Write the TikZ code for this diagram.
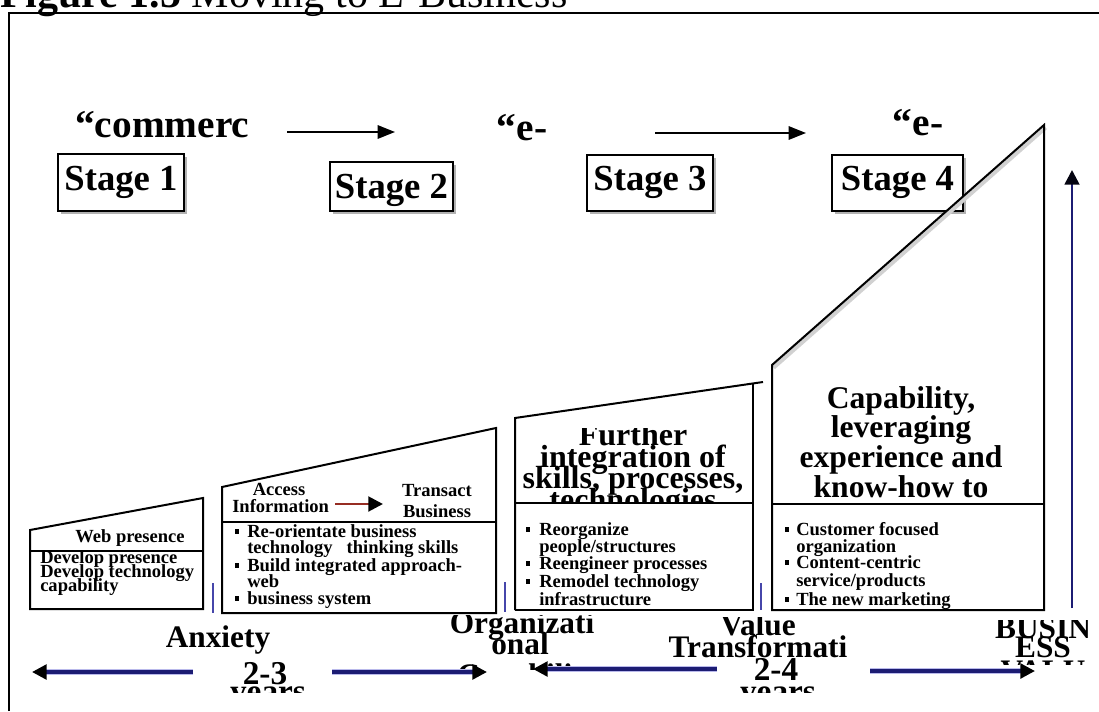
\documentclass[tikz,border=0pt]{standalone}
\usepackage{fontspec}
\setmainfont{Liberation Serif}
\usetikzlibrary{arrows.meta}
\definecolor{navy}{RGB}{28,28,115}
\definecolor{vline}{RGB}{70,70,170}
\definecolor{redshaft}{RGB}{150,45,35}
\definecolor{glow}{RGB}{185,185,235}
\begin{document}
\begin{tikzpicture}[x=0.75pt,y=-0.75pt,
  sm/.style={font=\fontsize{13.9}{14}\selectfont\bfseries, inner sep=0pt, anchor=base west},
  smc/.style={sm, anchor=base},
  hdr/.style={font=\fontsize{24}{24}\selectfont\bfseries, inner sep=0pt, anchor=base},
  big/.style={font=\fontsize{23.5}{24}\selectfont\bfseries, inner sep=0pt, anchor=base},
  num/.style={font=\fontsize{25}{25}\selectfont\bfseries, inner sep=0pt, anchor=base},
  top/.style={font=\fontsize{29.5}{30}\selectfont\bfseries, inner sep=0pt},
  stg/.style={draw, line width=1.5pt, fill=white, inner sep=0pt, text height=20pt,
    font=\fontsize{27.5}{28}\selectfont\bfseries},
  shad/.style={fill=black!30, draw=none, inner sep=0pt},
  boxline/.style={line width=1.5pt, line join=miter},
  bul/.style={fill=black, draw=none, rectangle, inner sep=0pt, minimum size=3.4pt},
  toparrow/.style={-{Triangle[length=13pt,width=10pt]}, line width=1.5pt},
  botarrow/.style={-{Triangle[length=11pt,width=11pt,color=black]}, line width=2.6pt, draw=navy},
  glowline/.style={draw=glow, line width=4.6pt},
  thin/.style={draw=vline, line width=1.3pt}
]
\clip (0,0) rectangle (1099,711);
\fill[white] (0,0) rectangle (1099,711);

% frame and title
\draw[line width=1.5pt] (9,711) -- (9,13) -- (1099,13);
\node[anchor=base west, inner sep=0pt, font=\fontsize{31.5}{32}\selectfont] (title) at (0,7)
  {\textbf{Figure 1.5} Moving to E-Business};

% top texts
\node[top, anchor=base west] (com) at (75,137) {“commerc};
\node[top, anchor=base] (e1) at (522,140) {“e-};
\node[top, anchor=base] (e2) at (918,135) {“e-};
\coordinate (a1s) at (287,132); \coordinate (a1e) at (395,132);
\coordinate (a2s) at (655,133); \coordinate (a2e) at (806,133);
\draw[toparrow] (a1s) -- (a1e);
\draw[toparrow] (a2s) -- (a2e);

% stage boxes (with shadows)
\node[shad, minimum width=94.5pt, minimum height=42.75pt] (s1s) at (124,185.5) {};
\node[shad, minimum width=92.25pt, minimum height=36.75pt] (s2s) at (394.5,189.5) {};
\node[shad, minimum width=94.5pt, minimum height=42pt] (s3s) at (653,186) {};
\node[shad, minimum width=98.25pt, minimum height=42pt] (s4s) at (900.5,186) {};
\node[stg, minimum width=94.5pt, minimum height=42.75pt, text depth=8.75pt] (s1) at (121,182.5) {Stage 1};
\node[stg, minimum width=92.25pt, minimum height=36.75pt, text depth=2.75pt] (s2) at (391.5,186.5) {Stage 2};
\node[stg, minimum width=94.5pt, minimum height=42pt, text depth=9.5pt] (s3) at (650,183) {Stage 3};
\node[stg, minimum width=98.25pt, minimum height=42pt, text depth=9.5pt] (s4) at (897.5,183) {Stage 4};

% stage 1 block
\draw[boxline] (30,609) -- (30,530) -- (203,498) -- (203,609) -- cycle;
\draw[boxline] (30,551) -- (203,551);
\node[smc] (wp) at (130,542) {Web presence};
\node[sm] (d1) at (40,563) {Develop presence};
\node[sm] (d2) at (40,577) {Develop technology};
\node[sm] (d3) at (40,591) {capability};

% stage 2 block
\draw[boxline] (222,613) -- (222,487) -- (496,428) -- (496,613) -- cycle;
\draw[boxline] (222,522) -- (496,522);
\node[smc] (acc) at (279,495) {Access};
\node[sm] (inf) at (232,512) {Information};
\node[smc] (tra) at (437,496) {Transact};
\node[smc] (bus) at (437,517) {Business};
\coordinate (ia) at (335,504); \coordinate (ib) at (383,504);
\draw[-{Triangle[length=11pt,width=11pt,color=black]}, line width=2.2pt, draw=redshaft] (ia) -- (ib);
\node[bul] (b21) at (237,531.5) {};
\node[sm] (t21) at (247,537) {Re-orientate business};
\node[sm] (t22) at (247,553) {technology\ \ \ thinking skills};
\node[bul] (b22) at (237,565.5) {};
\node[sm] (t23) at (247,571) {Build integrated approach-};
\node[sm] (t24) at (247,587) {web};
\node[bul] (b23) at (237,598.5) {};
\node[sm] (t25) at (247,604) {business system};

% stage 3 block
\draw[boxline] (515,610) -- (515,418) -- (763,382);
\draw[boxline] (753,384) -- (753,610) -- (515,610);
\begin{scope}
  \clip (515,428) rectangle (753,503);
  \node[hdr] (h31) at (633,445) {Further};
  \node[hdr] (h32) at (633,467) {integration of};
  \node[hdr] (h33) at (633,488) {skills, processes,};
  \node[hdr] (h34) at (633,510) {technologies};
\end{scope}
\draw[line width=2.2pt] (515,503) -- (753,503);
\node[bul] (b31) at (528,529.5) {};
\node[sm] (t31) at (539,535) {Reorganize};
\node[sm] (t32) at (539,552) {people/structures};
\node[bul] (b32) at (528,563.5) {};
\node[sm] (t33) at (539,569) {Reengineer processes};
\node[bul] (b33) at (528,581.5) {};
\node[sm] (t34) at (539,587) {Remodel technology};
\node[sm] (t35) at (539,605) {infrastructure};

% stage 4 block
\draw[black!18, line width=3.2pt] (773.5,367.5) -- (1045.5,127.5);
\draw[boxline] (772,610) -- (772,365) -- (1044,125) -- (1044,610) -- cycle;
\draw[boxline] (772,504) -- (1044,504);
\node[hdr, font=\fontsize{23.7}{24}\selectfont\bfseries] (h41) at (901,408) {Capability,};
\node[hdr, font=\fontsize{23.7}{24}\selectfont\bfseries] (h42) at (901,437) {leveraging};
\node[hdr, font=\fontsize{23.7}{24}\selectfont\bfseries] (h43) at (901,467) {experience and};
\node[hdr, font=\fontsize{23.7}{24}\selectfont\bfseries] (h44) at (901,497) {know-how to};
\node[bul] (b41) at (787,529.5) {};
\node[sm] (t41) at (796,535) {Customer focused};
\node[sm] (t42) at (796,552) {organization};
\node[bul] (b42) at (787,562.5) {};
\node[sm] (t43) at (796,568) {Content-centric};
\node[sm] (t44) at (796,586) {service/products};
\node[bul] (b43) at (787,599.5) {};
\node[sm] (t45) at (796,605) {The new marketing};

% thin blue separators
\coordinate (v1a) at (213,583); \coordinate (v1b) at (213,613);
\coordinate (v2a) at (505,582); \coordinate (v2b) at (505,612);
\coordinate (v3a) at (761,583); \coordinate (v3b) at (761,610);
\draw[thin] (v1a) -- (v1b);
\draw[thin] (v2a) -- (v2b);
\draw[thin] (v3a) -- (v3b);

% up arrow
\coordinate (ua) at (1072,608); \coordinate (ub) at (1072,170);
\draw[-{Triangle[length=11pt,width=11pt,color=black!85!navy]}, line width=2pt, draw=navy] (ua) -- (ub);

% bottom labels
\node[big] (anx) at (218,647) {Anxiety};
\begin{scope}
  \clip (200,600) rectangle (330,692);
  \node[num] (n23) at (265,684) {2-3};
  \node[num] (y23) at (268,702) {years};
\end{scope}
\begin{scope}
  \clip (400,615) rectangle (650,669);
  \node[big] (org1) at (522,633) {Organizati};
  \node[big] (org2) at (520,654) {onal};
  \node[big] (org3) at (520,685) {Capabilit};
\end{scope}
\begin{scope}
  \clip (650,617) rectangle (860,692);
  \node[big] (val1) at (758,635) {Value};
  \node[big] (val2) at (758,657) {Transformati};
  \node[num] (n24) at (776,680) {2-4};
  \node[num] (y24) at (778,702) {years};
\end{scope}
\begin{scope}
  \clip (980,620) rectangle (1099,664);
  \node[big] (bz1) at (1043,638) {BUSIN};
  \node[big] (bz2) at (1043,657) {ESS};
  \node[big] (bz3) at (1043,681) {VALU};
\end{scope}

% bottom arrows
\coordinate (p1) at (193,672); \coordinate (q1) at (32,672);
\coordinate (p2) at (332,672); \coordinate (q2) at (487,672);
\coordinate (p3) at (717,669); \coordinate (q3) at (533,669);
\coordinate (p4) at (870,671); \coordinate (q4) at (1035,671);
\coordinate (g1) at (46,672); \coordinate (g2) at (473,672);
\coordinate (g3) at (547,669); \coordinate (g4) at (1021,671);
\draw[glowline] (p1) -- (g1);
\draw[glowline] (p2) -- (g2);
\draw[glowline] (p3) -- (g3);
\draw[glowline] (p4) -- (g4);
\draw[botarrow] (p1) -- (q1);
\draw[botarrow] (p2) -- (q2);
\draw[botarrow] (p3) -- (q3);
\draw[botarrow] (p4) -- (q4);
\end{tikzpicture}
\end{document}
